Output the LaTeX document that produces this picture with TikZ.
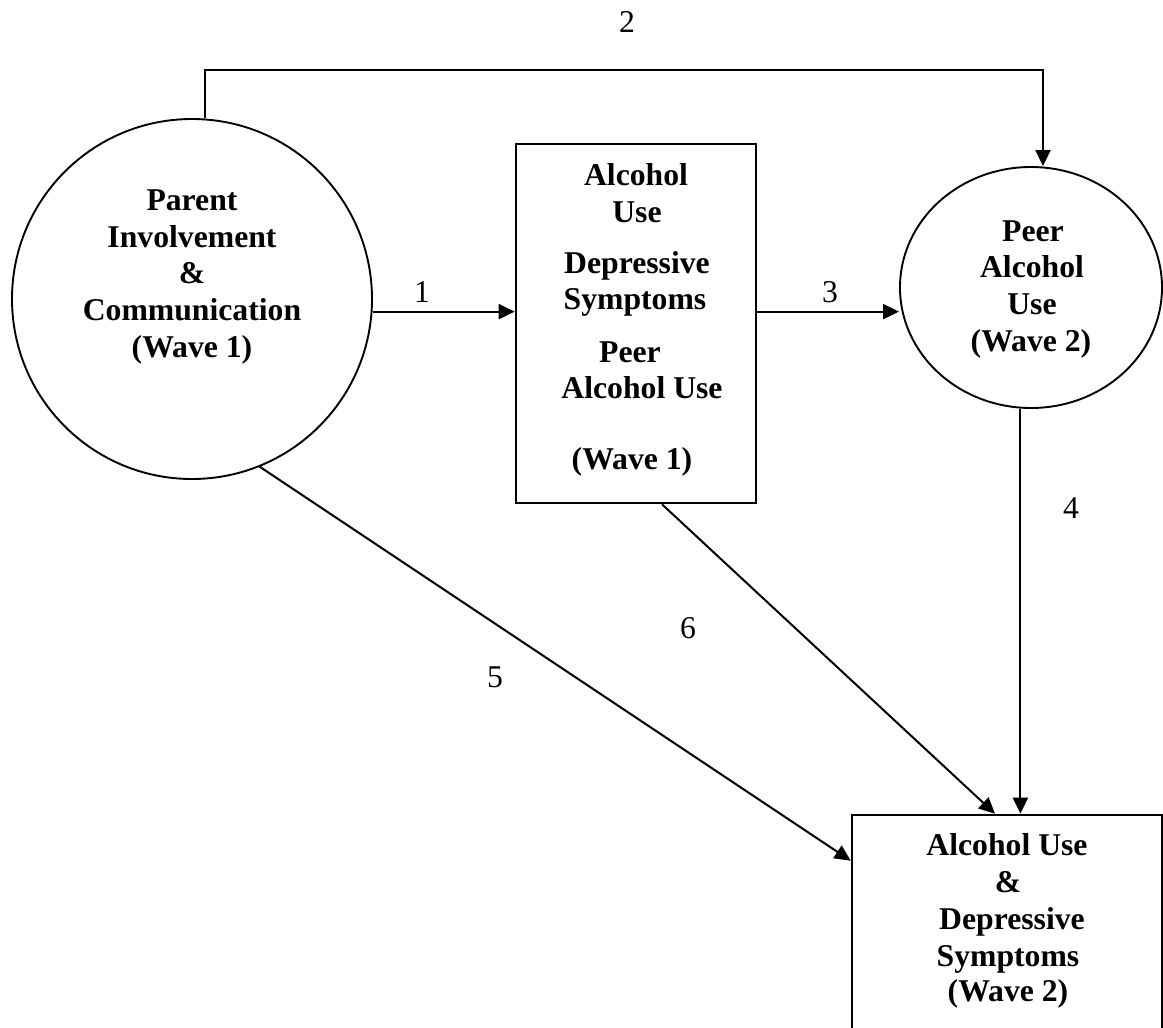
\documentclass[tikz,border=0pt]{standalone}
\usepackage{fontspec}
\setmainfont{Liberation Serif}
\usetikzlibrary{arrows.meta,shapes.geometric,calc}
\tikzset{
  bt/.style={font=\fontsize{31.7}{37}\selectfont\bfseries, inner sep=0pt, anchor=base},
  num/.style={font=\fontsize{31.7}{37}\selectfont, inner sep=0pt, anchor=base},
  arr/.style={line width=2pt, -{Triangle[length=16pt,width=15pt]}},
  circ/.style={draw, circle, line width=1.9pt, inner sep=0pt, minimum size=360pt},
  oval/.style={draw, ellipse, line width=1.9pt, inner sep=0pt, minimum width=262pt, minimum height=241pt},
  boxA/.style={draw, rectangle, line width=2.6pt, inner sep=0pt},
}
\begin{document}
\begin{tikzpicture}[x=1pt,y=-1pt]
\useasboundingbox (0,0) rectangle (1163,1028);
\clip (0,0) rectangle (1163,1028);

% shapes
\node[circ] (pic) at (192,299) {};
\node[boxA, minimum width=240pt, minimum height=359pt] (mid) at (636,323.5) {};
\node[oval] (peer) at (1031,287.5) {};
\node[boxA, minimum width=310pt, minimum height=245pt] (out) at (1007,937.5) {};

% texts: parent involvement
\node[bt] (t11) at (192,210) {Parent};
\node[bt] (t12) at (192,247) {Involvement};
\node[bt] (t13) at (192,283) {\&};
\node[bt] (t14) at (192,320) {Communication};
\node[bt] (t15) at (192,357) {(Wave 1)};

% texts: middle box
\node[bt] (t21) at (636,185) {Alcohol};
\node[bt] (t22) at (637,222) {Use};
\node[bt] (t23) at (637,273) {Depressive};
\node[bt] (t24) at (635,309) {Symptoms};
\node[bt] (t25) at (630,362) {Peer};
\node[bt] (t26) at (642,398) {Alcohol Use};
\node[bt] (t27) at (632,469) {(Wave 1)};

% texts: peer alcohol use
\node[bt] (t31) at (1033,241) {Peer};
\node[bt] (t32) at (1032,277) {Alcohol};
\node[bt] (t33) at (1032,314) {Use};
\node[bt] (t34) at (1031,351) {(Wave 2)};

% texts: outcome
\node[bt] (t41) at (1007,855) {Alcohol Use};
\node[bt] (t42) at (1008,892) {\&};
\node[bt] (t43) at (1012,929) {Depressive};
\node[bt] (t44) at (1008,966) {Symptoms};
\node[bt] (t45) at (1008,1001) {(Wave 2)};

% connectors
\coordinate (c2) at (1043,70);
\draw[arr] (pic.86.5) |- (c2) -- (c2 |- peer.north);
\draw[arr] (pic.-4) -- (pic.-4 -| mid.west);
\draw[arr] (pic.-4 -| mid.east) -- (pic.-4 -| peer.west);
\draw[arr] (peer.-95) -- (peer.-95 |- out.north);
\draw[arr] (pic.-68.5) -- ($(out.north west)+(0,47)$);
\draw[arr] ($(mid.south)+(26,0)$) -- ($(out.north)+(-12,0)$);

% path labels
\node[num] (l1) at (422,302) {1};
\node[num] (l2) at (627,32) {2};
\node[num] (l3) at (830,302) {3};
\node[num] (l4) at (1071,518) {4};
\node[num] (l5) at (495,687) {5};
\node[num] (l6) at (688,638) {6};
\end{tikzpicture}
\end{document}
